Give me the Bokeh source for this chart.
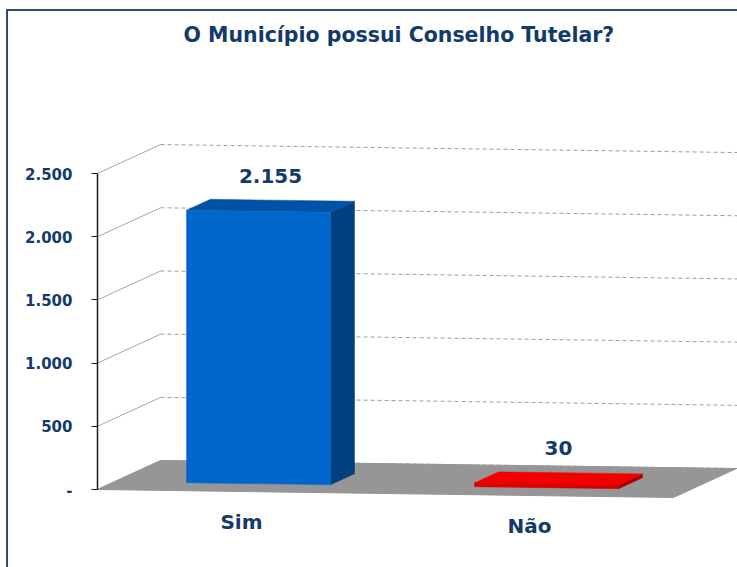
from bokeh.plotting import figure
from bokeh.models import FixedTicker, Range1d, ColumnDataSource
from bokeh.core.properties import value
from bokeh.embed import file_html
from bokeh.resources import INLINE

# ---- data ----
categories = ["Sim", "Não"]
counts = [2155, 30]
value_labels = ["2.155", "30"]
y_ticks = [0, 500, 1000, 1500, 2000, 2500]
y_tick_labels = ["-", "500", "1.000", "1.500", "2.000", "2.500"]

# ---- 3-D look (oblique projection in data units) ----
DEPTH_X = 0.219   # wall depth along x (category slots)
DEPTH_Y = 229.0   # wall depth along y (value units)
SLOPE = 31.6      # slight perspective drop per slot (value units)
BAR_W = 0.5
BAR_Z0 = 0.27
BAR_DZ = 0.38
FLOOR_END = len(categories)

NAVY = "#123B6B"
FONT = "DejaVu Sans"

TOP, BOTTOM = 44, 27
FRAME_W, FRAME_H = 640, 485
PX_PER_SLOT = 288.0
PX_PER_UNIT = 0.1264
ZERO_FROM_BOTTOM = 51  # px between frame bottom and the zero line


def proj(x, v, z):
    return x + z * DEPTH_X, v + z * DEPTH_Y - x * SLOPE


def quad(pts):
    xs, ys = zip(*[proj(*p) for p in pts])
    return list(xs), list(ys)


p = figure(width=89 + FRAME_W, height=TOP + FRAME_H + BOTTOM,
           frame_width=FRAME_W, frame_height=FRAME_H,
           min_border_left=89, min_border_right=0, min_border_top=TOP,
           min_border_bottom=BOTTOM, output_backend="svg", toolbar_location=None,
           x_range=Range1d(0, FRAME_W / PX_PER_SLOT),
           y_range=Range1d(-ZERO_FROM_BOTTOM / PX_PER_UNIT,
                           (FRAME_H - ZERO_FROM_BOTTOM) / PX_PER_UNIT))
p.styles = {"border-left": "2px solid #2B4D7C", "border-top": "2px solid #2B4D7C",
            "margin-left": "6px", "margin-top": "9px"}
p.outline_line_color = None
p.xgrid.visible = False
p.ygrid.visible = False
p.xaxis.visible = False
p.background_fill_color = "white"
p.border_fill_color = "white"

p.title.text = "O Município possui Conselho Tutelar?"
p.title.align = "left"
p.title.offset = 86
p.title.standoff = 18
p.title.text_font = FONT
p.title.text_font_size = "20.5px"
p.title.text_font_style = "bold"
p.title.text_color = NAVY

# gridlines: side wall (solid) + back wall (dashed)
for t in y_ticks:
    x0, y0 = proj(0, t, 0)
    x1, y1 = proj(0, t, 1)
    p.line([x0, x1], [y0, y1], line_color="#A6A6A6", line_width=1)
    x2, y2 = proj(2.4, t, 1)
    p.line([x1, x2], [y1, y2], line_color="#9C9C9C", line_width=1,
           line_dash="4 3")

# floor
fx, fy = quad([(0, 0, 0), (FLOOR_END, 0, 0), (FLOOR_END, 0, 1), (0, 0, 1)])
p.patch(fx, fy, fill_color="#969696", line_color="#969696", line_width=1)

# bars
front_cols = ["#0066CC", "#D90000"]
top_cols = ["#0052A6", "#F20000"]
side_cols = ["#003F80", "#A80000"]
for i, v in enumerate(counts):
    cx = i + 0.5
    l, r = cx - BAR_W / 2, cx + BAR_W / 2
    z0, z1 = BAR_Z0, BAR_Z0 + BAR_DZ
    sx, sy = quad([(r, 0, z0), (r, 0, z1), (r, v, z1), (r, v, z0)])
    p.patch(sx, sy, fill_color=side_cols[i], line_color=side_cols[i], line_width=0.5)
    tx, ty = quad([(l, v, z0), (r, v, z0), (r, v, z1), (l, v, z1)])
    p.patch(tx, ty, fill_color=top_cols[i], line_color=top_cols[i], line_width=0.5)
    ax, ay = quad([(l, 0, z0), (r, 0, z0), (r, v, z0), (l, v, z0)])
    p.patch(ax, ay, fill_color=front_cols[i], line_color=front_cols[i], line_width=0.5)

# value labels
vl = [proj(i + 0.5, v, BAR_Z0 + BAR_DZ / 2) for i, v in enumerate(counts)]
src_v = ColumnDataSource(dict(x=[a for a, b in vl], y=[b for a, b in vl], t=value_labels))
p.text(x="x", y="y", text="t", source=src_v, text_font=value(FONT),
       text_font_size="20px", text_font_style="bold", text_color=NAVY,
       text_align="center", text_baseline="bottom", y_offset=-23)

# category labels
cl = [proj(i + 0.5, 0, 0) for i in range(len(categories))]
src_c = ColumnDataSource(dict(x=[a for a, b in cl], y=[b for a, b in cl], t=categories))
p.text(x="x", y="y", text="t", source=src_c, text_font=value(FONT),
       text_font_size="20px", text_font_style="bold", text_color=NAVY,
       text_align="center", text_baseline="middle", y_offset=31)

# y axis
ax = p.yaxis[0]
ax.ticker = FixedTicker(ticks=y_ticks)
ax.major_label_overrides = {t: s for t, s in zip(y_ticks, y_tick_labels)}
ax.bounds = (0, 2500)
ax.axis_line_color = "#1A1A1A"
ax.axis_line_width = 1.5
ax.major_tick_line_color = "#1A1A1A"
ax.major_tick_out = 6
ax.major_tick_in = 0
ax.minor_tick_line_color = None
ax.major_label_standoff = 19
ax.major_label_text_font = FONT
ax.major_label_text_font_size = "15px"
ax.major_label_text_font_style = "bold"
ax.major_label_text_color = NAVY

open("out.html", "w").write(file_html(p, INLINE))
